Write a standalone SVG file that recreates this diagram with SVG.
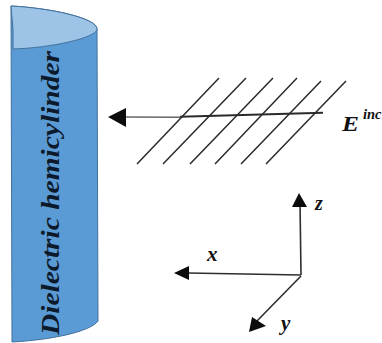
<svg xmlns="http://www.w3.org/2000/svg" width="382" height="343" viewBox="0 0 382 343">
<style>
.l{stroke:#2a2a2a;stroke-width:1.5;fill:none}
.a{stroke:#2e2e2e;stroke-width:1.6;fill:none}
.h{fill:#0c0c0c}
.t{font-family:"Liberation Serif",serif;font-style:italic;font-weight:bold;fill:#111}
</style>
<g id="cylinder">
<path d="M11 6C50 8 97 18 97 29L98 321C90 332 50 340 12 342Z" fill="#5b9bd5" stroke="#41719c" stroke-width="1"/>
<path d="M11 6C50 8 97 18 97 29C97 38 50 48 13 49L13 30Z" fill="#9dc3e6" stroke="#41719c" stroke-width="1"/>
<text class="t" transform="translate(59 335) rotate(-90)" font-size="26" textLength="284" lengthAdjust="spacingAndGlyphs" style="fill:#0d1a2b">Dielectric hemicylinder</text>
</g>
<g id="wavefronts">
<path class="l" d="M137 164L219 78M163 164L246 78M190 164L273 78M215 164L297 78M241 164L321 81M266 164L346 81"/>
</g>
<g id="connectors">
<path d="M126 117L180 117.200" stroke="#666" stroke-width="1.6" fill="none"/>
<path d="M180 116.700L323 112.700" stroke="#2a2a2a" stroke-width="2" fill="none"/>
<path class="h" d="M108 117L126 108L126 127Z"/>
<path class="a" d="M300 202L301 275"/>
<path class="h" d="M299 193L292 207L307 207Z"/>
<path class="a" d="M188 273L301 275"/>
<path class="h" d="M174 273L189 266L189 280Z"/>
<path class="a" d="M301 276L256 322"/>
<path class="h" d="M249 332L252 317L266 326Z"/>
</g>
<g id="labels">
<text class="t" x="342" y="131" font-size="22" textLength="17" lengthAdjust="spacingAndGlyphs">E</text>
<text class="t" x="363" y="119" font-size="14.500">inc</text>
<text class="t" x="315" y="210" font-size="20">z</text>
<text class="t" x="207" y="261" font-size="21">x</text>
<text class="t" x="281" y="330" font-size="21">y</text>
</g>
</svg>
